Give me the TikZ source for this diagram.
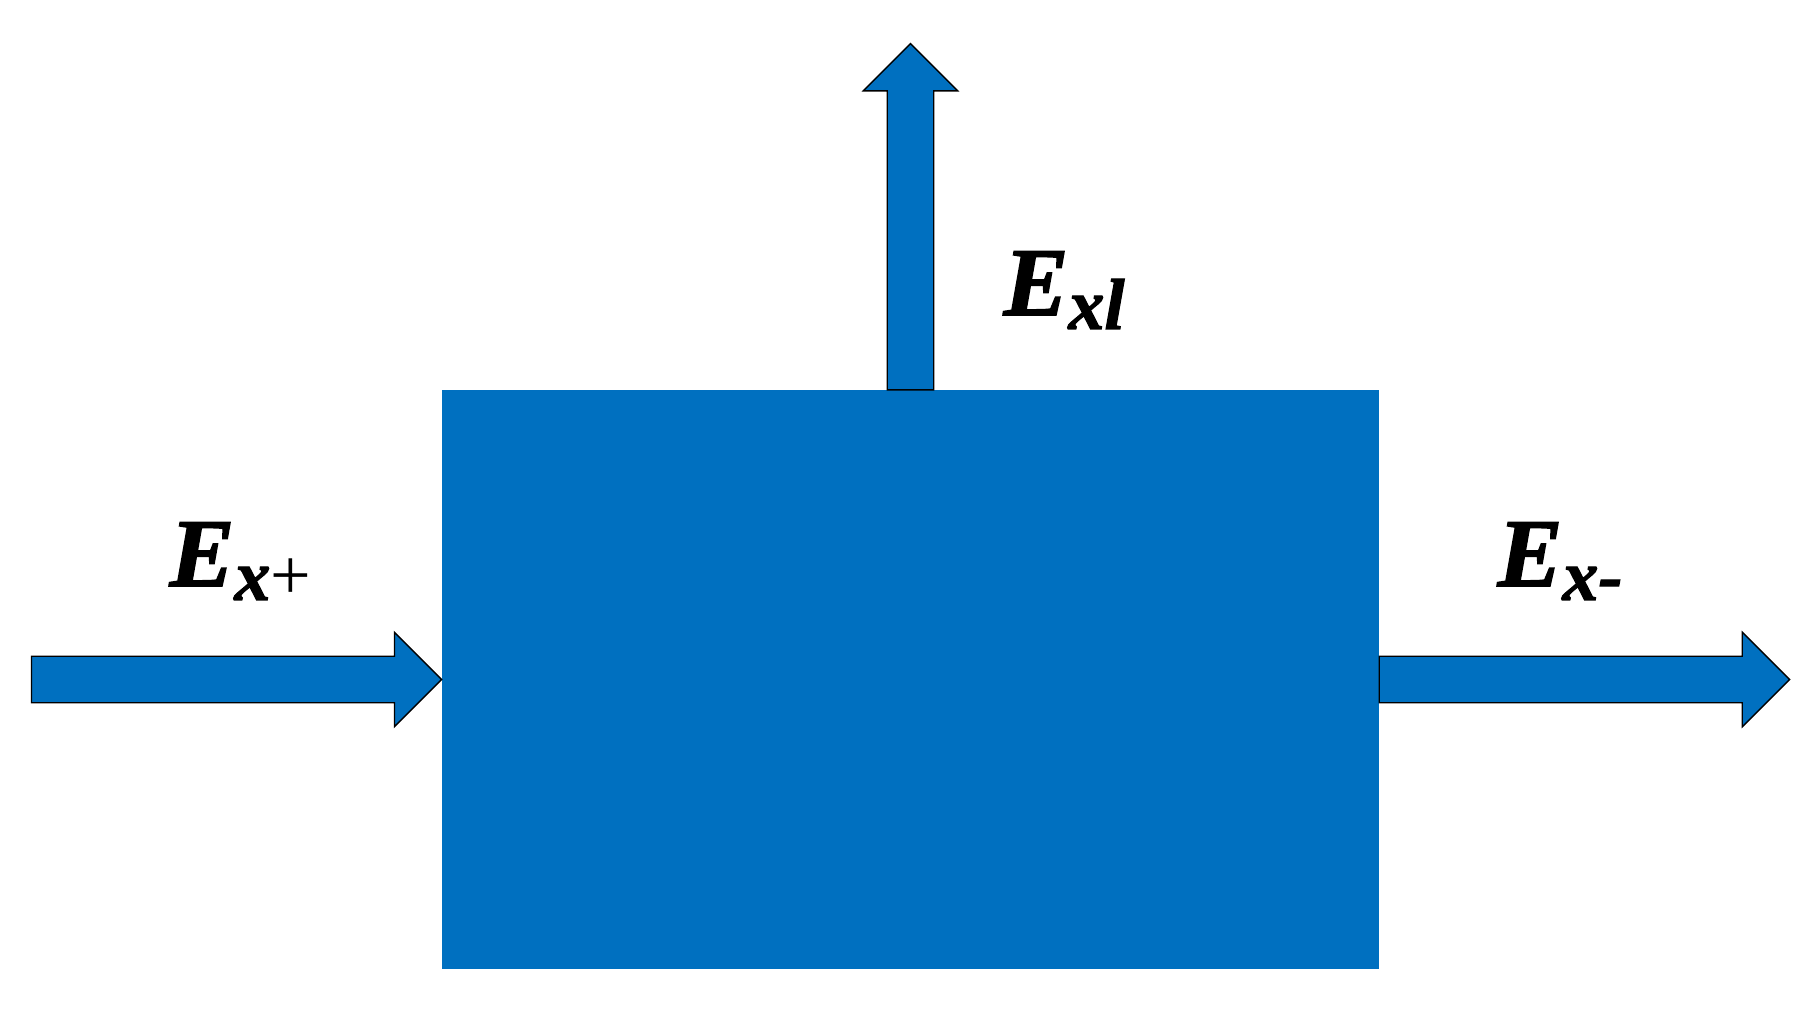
\documentclass[tikz,border=0pt]{standalone}
\usepackage{fontspec}
\setmainfont{Liberation Serif}
\newfontfamily\flowfont{Liberation Serif}[UprightFont={* Bold Italic},FakeBold=1.6]
\usetikzlibrary{shapes.arrows,positioning}
\definecolor{boxblue}{HTML}{0070C0}

\begin{document}
\begin{tikzpicture}[x=0.01cm,y=-0.01cm,
    block node/.style={rectangle,fill=boxblue,inner sep=0pt,outer sep=0pt,minimum width=9.37cm,minimum height=5.79cm},
    flow node/.style={single arrow,draw=black,line width=0.4pt,fill=boxblue,inner xsep=0pt,inner ysep=0.225cm,outer sep=0pt,
        single arrow head extend=0.24cm,single arrow tip angle=90},
    name node/.style={inner sep=0pt,anchor=base west,font=\flowfont\fontsize{27.6}{30}\selectfont}]
    \useasboundingbox (0,0) rectangle (1817,1022);

    \node[block node] (box) at (910.5,679.5) {};

    \node[flow node,minimum height=4.1cm,anchor=tip] (in) at (box.west) {};
    \node[flow node,minimum height=4.1cm,anchor=tail] (out) at (box.east) {};
    \node[flow node,minimum height=3.46cm,rotate=90,anchor=tail] (loss) at (box.north) {};

    \node[name node] (inname) at (169,586) {E\raisebox{-0.14cm}{\fontsize{20.5}{22}\selectfont x{\normalfont\fontsize{20.5}{22}\selectfont +}}};
    \node[name node] (lossname) at (1003,315) {E\raisebox{-0.14cm}{\fontsize{20.5}{22}\selectfont xl}};
    \node[name node] (outname) at (1497,586) {E\raisebox{-0.14cm}{\fontsize{20.5}{22}\selectfont x-}};
\end{tikzpicture}
\end{document}
